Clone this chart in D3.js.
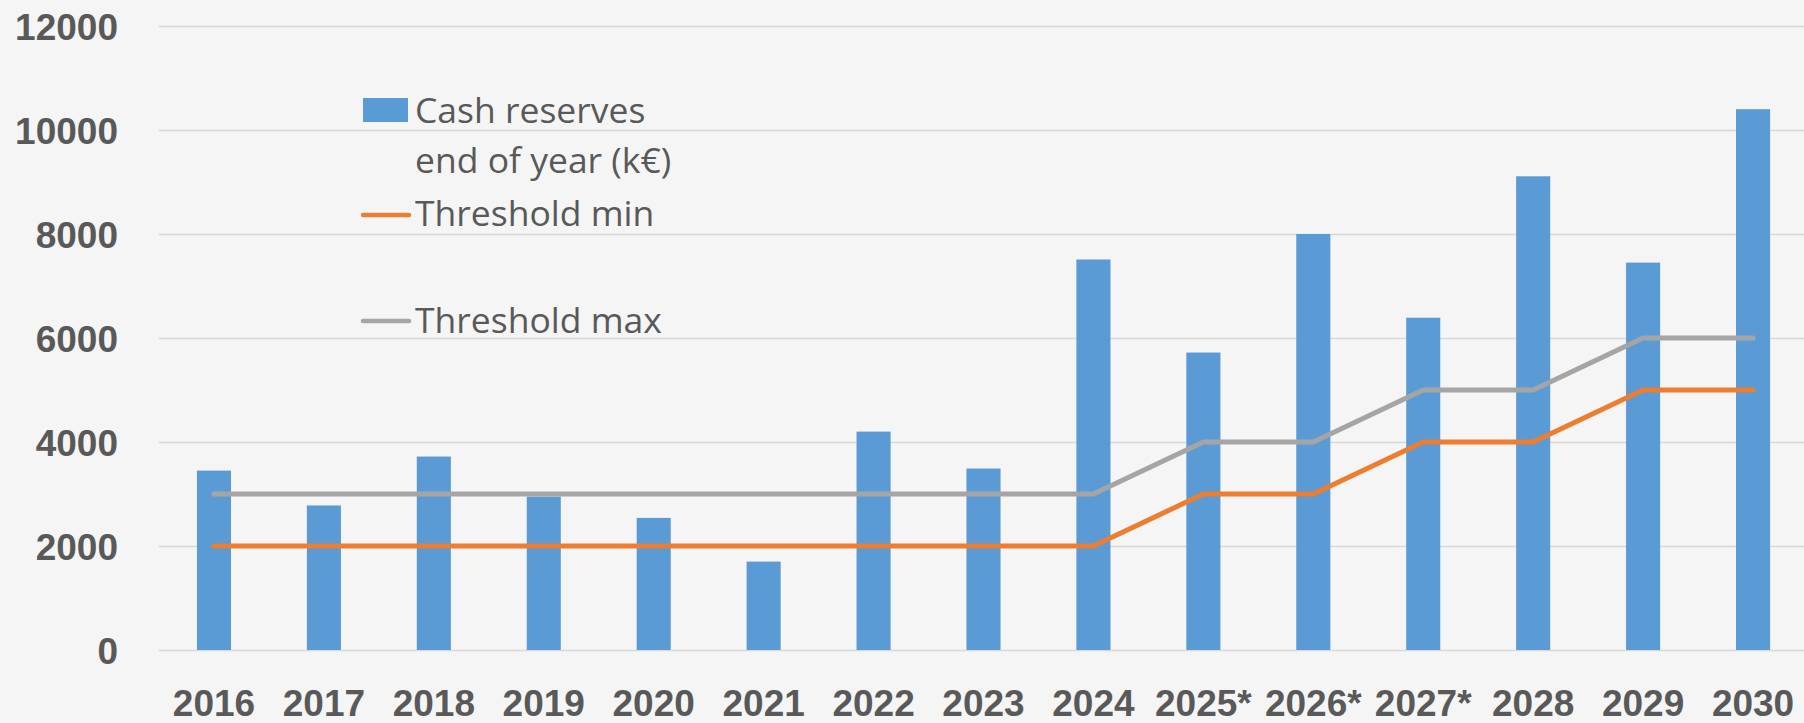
<!DOCTYPE html>
<html>
<head>
<meta charset="utf-8">
<script src="https://cdn.jsdelivr.net/npm/d3@7"></script>
<style>
  html, body { margin: 0; padding: 0; background: #f5f5f5; }
  svg { display: block; font-family: "Open Sans", "Noto Sans", sans-serif; }
</style>
</head>
<body>
<svg id="chart"></svg>
<script>
const width = 1804
const height = 723

// data
const years = ['2016', '2017', '2018', '2019', '2020', '2021', '2022', '2023', '2024', '2025*', '2026*', '2027*', '2028', '2029', '2030']
const cashReserves = [3450, 2780, 3720, 2950, 2540, 1700, 4200, 3490, 7510, 5720, 8000, 6390, 9110, 7450, 10400]
const thresholdMin = [2000, 2000, 2000, 2000, 2000, 2000, 2000, 2000, 2000, 3000, 3000, 4000, 4000, 5000, 5000]
const thresholdMax = [3000, 3000, 3000, 3000, 3000, 3000, 3000, 3000, 3000, 4000, 4000, 5000, 5000, 6000, 6000]
const yTicks = [0, 2000, 4000, 6000, 8000, 10000, 12000]
const legendLabels = [['Cash reserves', 'end of year (k€)'], ['Threshold min'], ['Threshold max']]

const blue = '#5b9bd5'
const orange = '#ed7d31'
const grey = '#a5a5a5'
const textColor = '#595959'

const margin = { left: 159, right: -4, top: 26, bottom: 73 }

const svg = d3.select('#chart').attr('width', width).attr('height', height)

svg.append('rect').attr('width', width).attr('height', height).attr('fill', '#f5f5f5')

const x = d3.scaleBand()
  .domain(years)
  .range([margin.left, width - margin.right])
  .paddingInner(0.69)
  .paddingOuter(0.345)

const y = d3.scaleLinear()
  .domain([0, 12000])
  .range([height - margin.bottom, margin.top])

// gridlines
const grid = svg.append('g')
  .attr('transform', `translate(${margin.left},0)`)
  .call(d3.axisRight(y).tickValues(yTicks).tickSize(width - margin.left).tickFormat(''))
grid.select('.domain').remove()
grid.selectAll('line').attr('stroke', '#d9d9d9').attr('stroke-width', 1.5)

// y labels
const yAxis = svg.append('g')
  .attr('transform', `translate(${margin.left},0)`)
  .call(d3.axisLeft(y).tickValues(yTicks).tickSize(0).tickPadding(41).tickFormat(d3.format('d')))
yAxis.select('.domain').remove()
yAxis.selectAll('text')
  .attr('fill', textColor)
  .style('font-size', '37px')
  .style('font-weight', 'bold')
  .attr('dy', '0.36em')

// x labels
const xAxis = svg.append('g')
  .attr('transform', `translate(0,${height - margin.bottom})`)
  .call(d3.axisBottom(x).tickSize(0))
xAxis.select('.domain').remove()
xAxis.selectAll('text')
  .attr('fill', textColor)
  .attr('y', 66)
  .attr('dy', 0)
  .style('font-size', '37px')
  .style('font-weight', 'bold')

// bars
svg.append('g')
  .selectAll('rect')
  .data(cashReserves)
  .enter().append('rect')
  .attr('x', (d, i) => x(years[i]))
  .attr('y', d => y(d))
  .attr('width', x.bandwidth())
  .attr('height', d => y(0) - y(d))
  .attr('fill', blue)

// threshold lines
const line = d3.line()
  .x((d, i) => x(years[i]) + x.bandwidth() / 2)
  .y(d => y(d))

const series = [
  { values: thresholdMax, color: grey },
  { values: thresholdMin, color: orange }
]
svg.append('g')
  .selectAll('path')
  .data(series)
  .enter().append('path')
  .attr('d', d => line(d.values))
  .attr('fill', 'none')
  .attr('stroke', d => d.color)
  .attr('stroke-width', 5)
  .attr('stroke-linecap', 'round')
  .attr('stroke-linejoin', 'round')

// legend
const legend = svg.append('g').attr('class', 'legend')
const legendRows = [110, 213, 320]
const legendTextX = 415

legend.append('rect')
  .attr('x', 363).attr('y', legendRows[0] - 12)
  .attr('width', 45).attr('height', 24)
  .attr('fill', blue)

legend.append('line')
  .attr('x1', 363).attr('x2', 409)
  .attr('y1', legendRows[1] + 2).attr('y2', legendRows[1] + 2)
  .attr('stroke', orange).attr('stroke-width', 4.5).attr('stroke-linecap', 'round')

legend.append('line')
  .attr('x1', 363).attr('x2', 409)
  .attr('y1', legendRows[2] + 1).attr('y2', legendRows[2] + 1)
  .attr('stroke', grey).attr('stroke-width', 4.5).attr('stroke-linecap', 'round')

legendLabels.forEach((lines, i) => {
  lines.forEach((t, j) => {
    legend.append('text')
      .attr('x', legendTextX)
      .attr('y', legendRows[i] + j * 50)
      .attr('dy', '0.36em')
      .attr('fill', textColor)
      .style('font-size', '35.5px')
      .text(t)
  })
})
</script>
</body>
</html>
